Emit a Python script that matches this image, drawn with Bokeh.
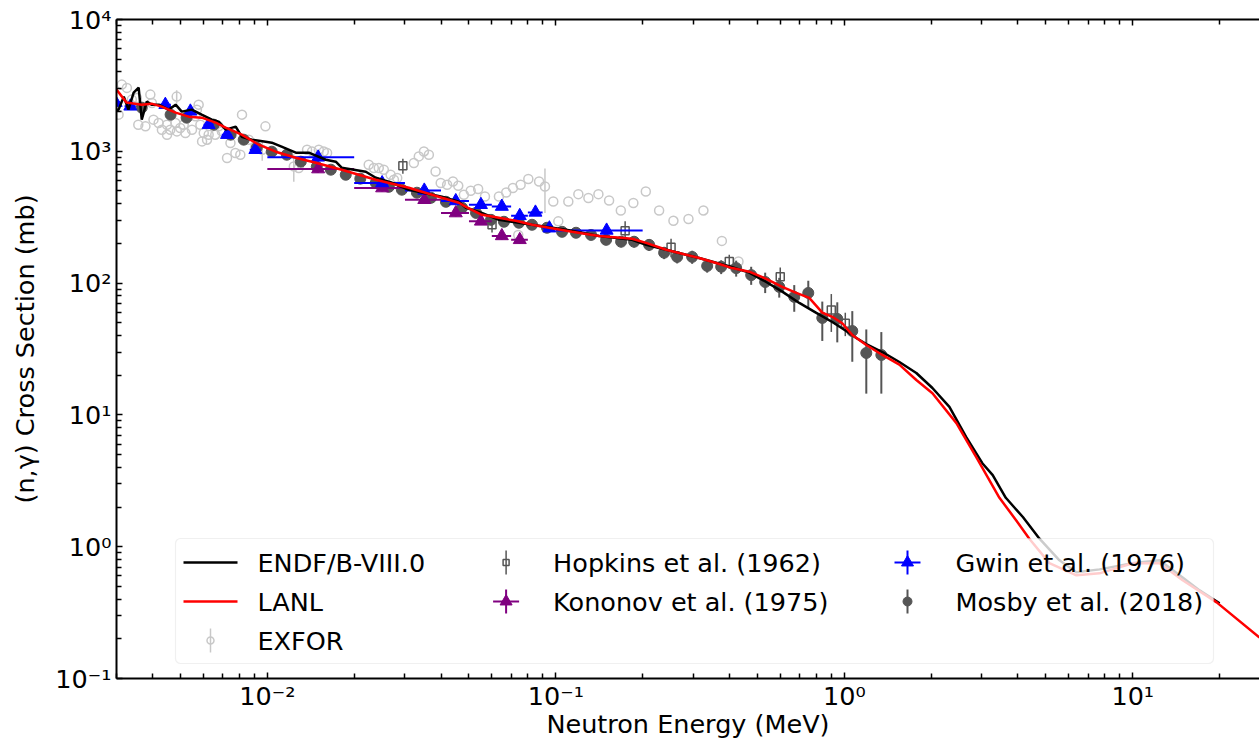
from bokeh.plotting import figure
from bokeh.models import (LogAxis, FixedTicker, CustomJSTickFormatter, Range1d,
                          LinearScale, BoxAnnotation)
from bokeh.core.properties import value
from bokeh.embed import file_html
from bokeh.resources import INLINE

# ---------------- data ----------------
endf_energy = [3.0e-3, 3.05e-3, 3.18e-3, 3.30e-3, 3.44e-3, 3.58e-3, 3.67e-3, 3.82e-3, 3.97e-3,
               4.20e-3, 4.55e-3, 4.81e-3, 5.05e-3, 5.47e-3, 5.92e-3, 6.42e-3, 6.78e-3, 7.17e-3,
               7.77e-3, 8.15e-3, 8.83e-3, 9.87e-3, 1.036e-2, 1.12e-2, 1.255e-2, 1.392e-2, 1.595e-2,
               1.727e-2, 1.81e-2, 2.195e-2, 2.376e-2, 2.70e-2, 3.094e-2, 4.03e-2, 4.61e-2, 4.88e-2,
               5.54e-2, 6.35e-2, 8.27e-2, 0.1085, 0.1412, 0.1838, 0.2056, 0.2412, 0.314, 0.4087,
               0.4682, 0.5363, 0.6095, 0.6982, 0.7998, 0.9087, 1.041, 1.1007, 1.192, 1.355, 1.552,
               1.777, 2.021, 2.314, 2.644, 3.01, 3.27, 3.63, 4.16, 4.75, 5.57, 6.38, 7.67, 9.98,
               12.39, 14.89, 17.05, 20.0]
endf_xs = [2071, 2071, 2599, 2071, 2788, 3043, 1739, 2382, 2259, 2259, 2071, 2259, 2000, 2071,
           1897, 1739, 1679, 1459, 1538, 1291, 1225, 1183, 1162, 1084, 976, 976, 863, 834, 751,
           700, 630, 577, 511, 452, 414, 373, 341, 302, 277, 254, 228, 213, 195, 179, 155, 132,
           120, 102, 86.2, 70.7, 59.4, 50.7, 41.8, 38.3, 34.5, 30.0, 25.2, 20.8, 16.0, 11.5, 6.82,
           4.30, 3.49, 2.35, 1.68, 1.15, 0.788, 0.639, 0.673, 0.748, 0.788, 0.585, 0.466, 0.372]

lanl_energy = [3.0e-3, 3.25e-3, 3.67e-3, 3.97e-3, 4.30e-3, 4.81e-3, 5.34e-3, 5.92e-3, 6.62e-3,
               7.17e-3, 8.15e-3, 9.34e-3, 1.069e-2, 1.255e-2, 1.472e-2, 1.81e-2, 2.376e-2, 3.094e-2,
               3.72e-2, 4.03e-2, 4.61e-2, 4.88e-2, 5.54e-2, 6.35e-2, 7.27e-2, 8.27e-2, 9.47e-2,
               0.1138, 0.1412, 0.1838, 0.2056, 0.2412, 0.314, 0.3597, 0.4087, 0.4682, 0.5363,
               0.6095, 0.6817, 0.756, 0.839, 0.9087, 0.9842, 1.066, 1.192, 1.355, 1.552, 1.777,
               2.021, 2.447, 2.864, 3.45, 3.94, 4.38, 5.14, 6.38, 7.67, 9.98, 12.39, 14.89, 19.54,
               27.5]
lanl_xs = [2938, 2341, 2259, 2299, 2182, 1966, 1832, 1800, 1650, 1511, 1337, 1122, 993, 894, 819,
           725, 608, 529, 468, 444, 407, 379, 330, 313, 297, 277, 263, 245, 228, 217, 202, 179,
           155, 142, 130, 122, 107.6, 93.6, 84.2, 77.2, 59.7, 55.5, 49.6, 40.4, 33.9, 28.5, 24.1,
           18.4, 14.6, 8.66, 4.80, 2.35, 1.59, 1.15, 0.75, 0.607, 0.628, 0.748, 0.748, 0.556,
           0.378, 0.205]

exfor_energy = [3.05e-3, 3.13e-3, 3.26e-3, 3.39e-3, 3.53e-3, 3.57e-3, 3.78e-3, 3.93e-3, 3.98e-3,
                4.03e-3, 4.20e-3, 4.31e-3, 4.49e-3, 4.49e-3, 4.61e-3, 4.80e-3, 4.85e-3, 4.86e-3,
                4.99e-3, 5.13e-3, 5.20e-3, 5.48e-3, 5.63e-3, 5.70e-3, 5.78e-3, 5.86e-3, 5.94e-3,
                6.02e-3, 6.18e-3, 6.26e-3, 6.60e-3, 6.78e-3, 6.96e-3, 7.25e-3, 7.45e-3, 7.75e-3,
                8.06e-3, 8.17e-3, 8.62e-3, 9.09e-3, 9.6e-3, 9.85e-3, 1.235e-2, 1.285e-2, 1.373e-2,
                1.429e-2, 1.508e-2, 1.569e-2, 1.611e-2, 2.246e-2, 2.339e-2, 2.434e-2, 2.534e-2,
                2.675e-2, 2.747e-2, 2.82e-2, 3.22e-2, 3.35e-2, 3.49e-2, 3.63e-2, 3.83e-2, 3.99e-2,
                4.20e-2, 4.40e-2, 4.59e-2, 4.80e-2, 5.07e-2, 5.38e-2, 5.68e-2, 6.35e-2, 6.73e-2,
                7.10e-2, 7.41e-2, 7.55e-2, 8.03e-2, 8.75e-2, 9.17e-2, 9.80e-2, 0.102, 0.1105,
                0.1197, 0.1297, 0.1405, 0.1530, 0.168, 0.1857, 0.2051, 0.2281, 0.2557, 0.2883,
                0.3249, 0.3764, 0.4298]
exfor_xs = [1897, 3207, 3027, 2467, 2541, 1592, 1546, 2692, 2328, 1739, 1641, 1459, 1592, 1337,
            1459, 1641, 2600, 1416, 1503, 1592, 1377, 1459, 1841, 2071, 2259, 1592, 1189, 1377,
            1225, 1337, 1337, 1546, 1416, 890, 1156, 971, 942, 1897, 1225, 1089, 1028, 1546, 768,
            747, 1028, 998, 1028, 998, 971, 791, 747, 747, 725, 664, 608, 627, 815, 915, 998, 942,
            703, 574, 557, 590, 548, 468, 502, 517, 454, 454, 487, 526, 232, 557, 616, 590, 541,
            416, 294, 416, 473, 442, 473, 423, 356, 405, 496, 356, 297, 306, 356, 209, 146]
exfor_bar_energy = [4.85e-3, 9.6e-3, 1.235e-2, 9.17e-2]
exfor_bar_xs = [2600, 1028, 768, 541]
exfor_bar_err = [300, 180, 180, 200]

hopkins_energy = [2.95e-2, 6.01e-2, 0.1739, 0.2509, 0.3993, 0.5998, 0.9016, 1.008]
hopkins_xs = [777, 277, 250, 187, 146, 111.5, 62.6, 49.6]
hopkins_err = [100, 35, 45, 30, 18, 20, 20, 10]

kononov_energy = [0.015, 0.025, 0.035, 0.045, 0.055, 0.065, 0.075]
kononov_de = [0.005, 0.005, 0.005, 0.005, 0.005, 0.005, 0.005]
kononov_xs = [733, 526, 429, 340, 294, 228, 213]
kononov_err = [50, 30, 25, 20, 18, 15, 14]

gwin_energy = [2.98e-3, 3.35e-3, 4.43e-3, 5.41e-3, 6.26e-3, 7.25e-3, 9.09e-3, 0.015, 0.025,
               0.035, 0.045, 0.055, 0.065, 0.075, 0.085, 0.095, 0.15]
gwin_de = [1.2e-4, 1.5e-4, 2.0e-4, 2.2e-4, 2.5e-4, 3.0e-4, 4.0e-4, 0.005, 0.005, 0.005, 0.005,
           0.005, 0.005, 0.005, 0.005, 0.005, 0.05]
gwin_xs = [2341, 2194, 2259, 2010, 1592, 1337, 1028, 900, 575, 505, 420, 393, 381, 324, 344,
           261, 251]
gwin_err = [90, 80, 80, 70, 55, 45, 35, 30, 20, 18, 15, 14, 14, 12, 12, 10, 10]

mosby_energy = [3.67e-3, 4.62e-3, 5.25e-3, 6.52e-3, 7.46e-3, 8.28e-3, 9.19e-3, 1.036e-2,
                1.168e-2, 1.306e-2, 1.484e-2, 1.66e-2, 1.87e-2, 2.10e-2, 2.376e-2, 2.637e-2,
                2.926e-2, 3.30e-2, 3.69e-2, 4.16e-2, 4.73e-2, 5.29e-2, 5.96e-2, 6.61e-2, 7.45e-2,
                8.27e-2, 9.32e-2, 0.1051, 0.1175, 0.1325, 0.1494, 0.1684, 0.1868, 0.2106, 0.2374,
                0.2634, 0.2969, 0.3347, 0.3743, 0.4219, 0.4756, 0.5318, 0.5950, 0.6707, 0.7502,
                0.839, 0.9456, 1.066, 1.192, 1.344]
mosby_xs = [2145, 1897, 1800, 1592, 1337, 1225, 1065, 993, 942, 834, 764, 725, 664, 620, 577,
            538, 511, 485, 444, 414, 373, 341, 302, 292, 287, 277, 263, 245, 241, 232, 213, 206,
            206, 195, 170, 158, 158, 135, 133, 130, 115, 102, 93.6, 78.6, 84.2, 54.4, 53.5, 43.3,
            29.5, 28.5]
mosby_err = [107, 95, 90, 80, 67, 61, 53, 50, 47, 42, 38, 36, 33, 31, 29, 35, 33, 32, 30, 28,
             26, 24, 22, 22, 22, 22, 21, 20, 20, 20, 19, 19, 20, 20, 18, 17, 18, 15, 16, 18, 18,
             18, 16, 18, 20, 18, 18, 18, 15, 14]

x_major_ticks = [1e-2, 1e-1, 1e0, 1e1]
y_major_ticks = [1e-1, 1e0, 1e1, 1e2, 1e3, 1e4]

legend_labels = ["ENDF/B-VIII.0", "LANL", "EXFOR", "Hopkins et al. (1962)",
                 "Kononov et al. (1975)", "Gwin et al. (1976)", "Mosby et al. (2018)"]

# ---------------- styling ----------------
FONT = "DejaVu Sans"
FS = "25.5px"
GRAY = "#555555"
LIGHT = "#c8c8c8"
PURPLE = "#800080"
BLUE = "#0000ff"

FW, FH = 1143, 659

p = figure(frame_width=FW, frame_height=FH,
           x_axis_type="log", y_axis_type="log",
           x_range=Range1d(3.0e-3, 27.5), y_range=Range1d(0.1, 1.0e4),
           output_backend="svg", toolbar_location=None,
           min_border_left=116, min_border_right=0, min_border_top=19, min_border_bottom=64,
           x_axis_label="Neutron Energy (MeV)", y_axis_label="(n,γ) Cross Section (mb)")
p.outline_line_color = None
p.grid.visible = False
p.background_fill_color = "white"
p.border_fill_color = "white"

x_minor = [m * 10.0 ** k for k in range(-3, 2) for m in range(2, 10)]
y_minor = [m * 10.0 ** k for k in range(-1, 4) for m in range(2, 10)]
xticker = FixedTicker(ticks=x_major_ticks, minor_ticks=x_minor)
yticker = FixedTicker(ticks=y_major_ticks, minor_ticks=y_minor)

sup_code = r"""
const sup = {"-": "\u207b", "0": "\u2070", "1": "\u00b9", "2": "\u00b2", "3": "\u00b3",
             "4": "\u2074", "5": "\u2075", "6": "\u2076", "7": "\u2077", "8": "\u2078",
             "9": "\u2079"};
const e = Math.round(Math.log10(tick));
return "10" + String(e).split("").map(c => sup[c]).join("");
"""


def style_axis(ax):
    ax.axis_line_width = 2
    ax.axis_line_color = "black"
    ax.major_tick_in = 6
    ax.major_tick_out = 0
    ax.minor_tick_in = 5
    ax.minor_tick_out = 0
    ax.major_tick_line_width = 1.5
    ax.minor_tick_line_width = 1.5
    ax.major_tick_line_color = "black"
    ax.minor_tick_line_color = "black"
    ax.major_label_text_font = FONT
    ax.major_label_text_font_size = FS
    ax.major_label_text_color = "black"
    ax.axis_label_text_font = FONT
    ax.axis_label_text_font_size = FS
    ax.axis_label_text_font_style = "normal"
    ax.axis_label_text_color = "black"


xa = p.xaxis[0]
ya = p.yaxis[0]
xa.ticker = xticker
xa.formatter = CustomJSTickFormatter(code=sup_code)
style_axis(xa)
xa.major_label_standoff = 2
xa.axis_label_standoff = -5
ya.ticker = yticker
ya.formatter = CustomJSTickFormatter(code=sup_code)
style_axis(ya)
ya.major_label_standoff = 5
ya.axis_label_standoff = 12

top = LogAxis(ticker=xticker, formatter=CustomJSTickFormatter(code="return '';"))
style_axis(top)
top.major_label_text_font_size = "1px"
top.major_label_standoff = 0
p.add_layout(top, "above")


def lo(vals, errs):
    return [v - e for v, e in zip(vals, errs)]


def hi(vals, errs):
    return [v + e for v, e in zip(vals, errs)]


# ---------------- data glyphs ----------------
# EXFOR
p.segment(x0=exfor_bar_energy, x1=exfor_bar_energy, y0=lo(exfor_bar_xs, exfor_bar_err),
          y1=hi(exfor_bar_xs, exfor_bar_err), line_color=LIGHT, line_width=1.5)
p.scatter(exfor_energy, exfor_xs, marker="circle", size=9, fill_color=None,
          line_color=LIGHT, line_width=1.5)

# Mosby
p.segment(x0=mosby_energy, x1=mosby_energy, y0=lo(mosby_xs, mosby_err),
          y1=hi(mosby_xs, mosby_err), line_color=GRAY, line_width=2)
p.scatter(mosby_energy, mosby_xs, marker="circle", size=11, color=GRAY)

# Hopkins
p.segment(x0=hopkins_energy, x1=hopkins_energy, y0=lo(hopkins_xs, hopkins_err),
          y1=hi(hopkins_xs, hopkins_err), line_color=GRAY, line_width=1.5)
p.scatter(hopkins_energy, hopkins_xs, marker="square", size=8, fill_color=None,
          line_color=GRAY, line_width=1.5)

# Kononov
p.segment(x0=lo(kononov_energy, kononov_de), x1=hi(kononov_energy, kononov_de),
          y0=kononov_xs, y1=kononov_xs, line_color=PURPLE, line_width=2)
p.segment(x0=kononov_energy, x1=kononov_energy, y0=lo(kononov_xs, kononov_err),
          y1=hi(kononov_xs, kononov_err), line_color=PURPLE, line_width=2)
p.scatter(kononov_energy, kononov_xs, marker="triangle", size=13, color=PURPLE)

# Gwin
p.segment(x0=lo(gwin_energy, gwin_de), x1=hi(gwin_energy, gwin_de),
          y0=gwin_xs, y1=gwin_xs, line_color=BLUE, line_width=2)
p.segment(x0=gwin_energy, x1=gwin_energy, y0=lo(gwin_xs, gwin_err),
          y1=hi(gwin_xs, gwin_err), line_color=BLUE, line_width=2)
p.scatter(gwin_energy, gwin_xs, marker="triangle", size=13, color=BLUE)

# evaluations
p.line(endf_energy, endf_xs, line_color="black", line_width=2.5)
p.line(lanl_energy, lanl_xs, line_color="red", line_width=2.5)

# ---------------- legend (pixel coordinates inside the frame) ----------------
p.extra_x_ranges = {"lx": Range1d(0, FW)}
p.extra_y_ranges = {"ly": Range1d(0, FH)}
p.extra_x_scales = {"lx": LinearScale()}
p.extra_y_scales = {"ly": LinearScale()}
L = dict(x_range_name="lx", y_range_name="ly", level="overlay")

p.add_layout(BoxAnnotation(left=59, right=1097, bottom=15, top=140,
                           x_range_name="lx", y_range_name="ly",
                           fill_color="white", fill_alpha=0.8,
                           line_color="#cccccc", line_width=1.2, border_radius=5))

col_x = [94, 389.6, 791]
row_y = [116, 77, 38]
text_x = [141, 141, 141, 436.6, 436.6, 839, 839]
text_y = [row_y[0], row_y[1], row_y[2], row_y[0], row_y[1], row_y[0], row_y[1]]
half_line = 27
bar = 12

# ENDF / LANL line samples
p.segment(x0=[col_x[0] - half_line] * 2, x1=[col_x[0] + half_line] * 2,
          y0=row_y[:2], y1=row_y[:2], line_color=["black", "red"], line_width=2.5, **L)
# EXFOR
p.segment(x0=[col_x[0]], x1=[col_x[0]], y0=[row_y[2] - bar], y1=[row_y[2] + bar],
          line_color=LIGHT, line_width=1.5, **L)
p.scatter([col_x[0]], [row_y[2]], marker="circle", size=7, fill_color=None,
          line_color=LIGHT, line_width=1.5, **L)
# Hopkins
p.segment(x0=[col_x[1]], x1=[col_x[1]], y0=[row_y[0] - bar], y1=[row_y[0] + bar],
          line_color=GRAY, line_width=1.5, **L)
p.scatter([col_x[1]], [row_y[0]], marker="square", size=6, fill_color=None,
          line_color=GRAY, line_width=1.5, **L)
# Kononov
p.segment(x0=[col_x[1], col_x[1] - 13], x1=[col_x[1], col_x[1] + 13],
          y0=[row_y[1] - bar, row_y[1]], y1=[row_y[1] + bar, row_y[1]],
          line_color=PURPLE, line_width=2, **L)
p.scatter([col_x[1]], [row_y[1]], marker="triangle", size=12, color=PURPLE, **L)
# Gwin
p.segment(x0=[col_x[2], col_x[2] - 13], x1=[col_x[2], col_x[2] + 13],
          y0=[row_y[0] - bar, row_y[0]], y1=[row_y[0] + bar, row_y[0]],
          line_color=BLUE, line_width=2, **L)
p.scatter([col_x[2]], [row_y[0]], marker="triangle", size=12, color=BLUE, **L)
# Mosby
p.segment(x0=[col_x[2]], x1=[col_x[2]], y0=[row_y[1] - bar], y1=[row_y[1] + bar],
          line_color=GRAY, line_width=2, **L)
p.scatter([col_x[2]], [row_y[1]], marker="circle", size=9, color=GRAY, **L)

p.text(x=text_x, y=text_y, text=legend_labels, text_font=value(FONT),
       text_font_size=value(FS), text_baseline="middle", text_align="left",
       text_color="black", **L)

with open("out.html", "w", encoding="utf-8") as f:
    f.write(file_html(p, INLINE))
